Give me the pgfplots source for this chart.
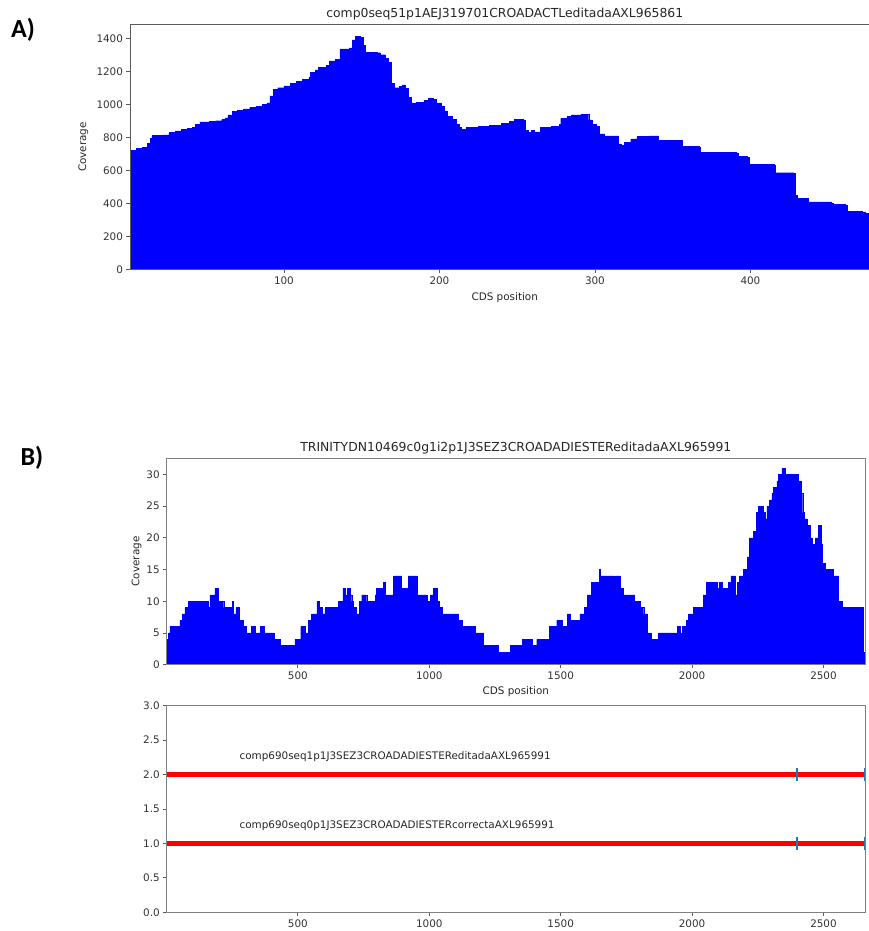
\documentclass[border=0pt]{standalone}
\usepackage{pgfplots}
\pgfplotsset{compat=1.18}
\usepackage{fontspec}
\setmainfont{DejaVu Sans}
\newfontfamily\calib{Carlito}
\definecolor{mplblue}{HTML}{0000FF}
\definecolor{tabblue}{HTML}{1F77B4}
\definecolor{framegray}{HTML}{5A5A5A}
\newcommand\tk{\fontsize{10.4bp}{12bp}\selectfont}
\newcommand\ttl{\fontsize{12.4bp}{14bp}\selectfont}

\pgfplotsset{
  mystyle/.style={
    scale only axis,
    anchor=south west,
    tick align=outside, tick pos=left,
    major tick length=3.5bp,
    axis line style={framegray, line width=0.8bp},
    tick style={framegray, line width=0.8bp},
    ticklabel style={font=\tk, text=black!80},
    label style={font=\tk, text=black!85},
    title style={font=\ttl, text=black!85, at={(axis description cs:0.5,1)}, anchor=base, yshift=0.8bp},
    /pgf/number format/assume math mode=true,
    /pgf/number format/1000 sep={},
    axis on top,
  }
}

\pgfplotstableread{
x y
1 720
5 732
9 740
12 765
14 795
15 812
22 815
26 828
30 838
34 848
38 852
41 862
43 880
46 893
52 897
56 900
60 908
62 918
64 935
67 955
70 965
74 972
78 980
82 988
86 998
89 1008
91 1050
93 1090
96 1100
100 1112
104 1125
108 1140
112 1150
116 1165
117 1195
120 1208
122 1225
127 1235
129 1262
133 1270
136 1335
142 1342
144 1390
146 1410
149 1405
151 1355
152 1315
160 1312
162 1300
165 1280
167 1255
169 1125
171 1100
174 1108
176 1118
178 1095
180 1040
182 1008
185 1012
190 1025
193 1038
196 1030
198 1008
201 990
203 960
205 925
208 910
211 880
213 860
214 848
217 858
225 866
232 874
240 885
245 898
248 908
254 905
255 842
257 828
259 842
261 832
265 858
272 868
277 880
278 915
282 925
285 935
291 940
295 937
296 905
298 880
301 868
303 820
306 808
314 808
315 760
317 752
319 768
323 790
327 805
335 808
341 782
355 782
356 745
367 742
368 708
391 706
392 685
398 680
399 635
415 630
416 585
428 583
429 450
430 430
436 428
437 408
452 402
453 392
461 390
462 350
472 348
474 340
483 340
}\covA

\pgfplotstableread{
x y
1 4
6 5
13 6
51 7
61 8
70 9
83 10
159 9
165 11
184 12
197 10
218 9
251 10
254 8
264 9
277 7
292 6
305 5
324 6
337 5
358 6
371 5
409 4
432 3
489 4
511 6
527 5
540 7
552 8
572 10
580 9
594 8
603 9
654 10
671 12
679 11
688 12
699 11
705 10
711 9
721 8
734 10
743 11
762 10
794 11
800 12
826 13
832 11
864 14
895 12
921 14
953 11
991 10
1003 11
1016 12
1029 10
1039 9
1048 7
1054 8
1111 7
1124 6
1175 5
1207 3
1262 2
1308 3
1354 4
1392 3
1409 4
1456 6
1485 7
1506 6
1525 8
1538 7
1573 8
1589 9
1601 11
1618 13
1646 15
1652 14
1703 13
1709 14
1725 12
1738 11
1781 10
1804 9
1816 8
1829 5
1844 4
1873 5
1943 6
1956 5
1962 6
1977 7
1987 8
2006 9
2042 11
2054 13
2097 12
2102 13
2114 12
2139 13
2148 14
2165 11
2171 13
2181 14
2196 15
2209 17
2219 20
2232 21
2244 24
2253 25
2270 24
2278 23
2285 25
2295 26
2304 27
2310 28
2323 29
2329 30
2342 31
2354 30
2380 29
2386 30
2405 29
2414 27
2421 24
2427 23
2437 22
2449 20
2456 18
2462 19
2468 20
2481 22
2490 19
2497 16
2506 15
2538 14
2557 10
2570 9
2652 2
2658 2
}\covB

\begin{document}
\begin{tikzpicture}
\useasboundingbox (0,0) rectangle (869bp,931bp);

% Panel A
\begin{axis}[mystyle,
  at={(130bp,661.7bp)}, width=749.5bp, height=244.6bp,
  xmin=1, xmax=483, ymin=0, ymax=1482,
  xtick={100,200,300,400}, ytick={0,200,...,1400},
  title={comp0seq51p1AEJ319701CROADACTLeditadaAXL965861},
  xlabel={CDS position}, ylabel={Coverage},
  xlabel style={at={(axis description cs:0.5,-0.1296)}, anchor=base},
  ylabel style={at={(axis description cs:-0.0623,0.5)}, anchor=center},
]
\addplot[const plot, fill=mplblue, draw=mplblue, line width=0.4bp] table[x=x,y=y] {\covA} \closedcycle;
\end{axis}

% Panel B top
\begin{axis}[mystyle,
  at={(166.7bp,266.3bp)}, width=698.3bp, height=206.4bp,
  axis line style={gray, line width=0.8bp},
  xmin=1, xmax=2658, ymin=0, ymax=32.55,
  xtick={500,1000,1500,2000,2500}, ytick={0,5,...,30},
  title={TRINITYDN10469c0g1i2p1J3SEZ3CROADADIESTEReditadaAXL965991},
  xlabel={CDS position}, ylabel={Coverage},
  xlabel style={at={(axis description cs:0.5,-0.142)}, anchor=base},
  ylabel style={at={(axis description cs:-0.043,0.5)}, anchor=center},
]
\addplot[const plot, fill=mplblue, draw=mplblue, line width=0.4bp] table[x=x,y=y] {\covB} \closedcycle;
\end{axis}

% Panel B bottom
\begin{axis}[mystyle,
  at={(166.7bp,18.7bp)}, width=698.3bp, height=206.6bp,
  axis line style={gray, line width=0.8bp},
  xmin=1, xmax=2658, ymin=0, ymax=3,
  xtick={500,1000,1500,2000,2500}, ytick={0,0.5,...,3},
  yticklabel style={/pgf/number format/.cd, fixed, fixed zerofill, precision=1},
  clip marker paths=true,
]
\addplot[draw=red, line width=4.5bp] coordinates {(1,2) (2658,2)};
\addplot[draw=red, line width=4.5bp] coordinates {(1,1) (2658,1)};
\addplot[only marks, mark=|, mark size=6.7bp, color=tabblue, mark options={line width=2bp}] coordinates {(2398,2) (2658,2) (2398,1) (2658,1)};
\node[anchor=base west, font=\tk, text=black!85] at (axis cs:265,2.22) {comp690seq1p1J3SEZ3CROADADIESTEReditadaAXL965991};
\node[anchor=base west, font=\tk, text=black!85] at (axis cs:265,1.22) {comp690seq0p1J3SEZ3CROADADIESTERcorrectaAXL965991};
\end{axis}

\node[font={\calib\bfseries\fontsize{26bp}{30bp}\selectfont}, anchor=center] at (23bp,901bp) {A)};
\node[font={\calib\bfseries\fontsize{26bp}{30bp}\selectfont}, anchor=center] at (32bp,473bp) {B)};
\end{tikzpicture}
\end{document}
